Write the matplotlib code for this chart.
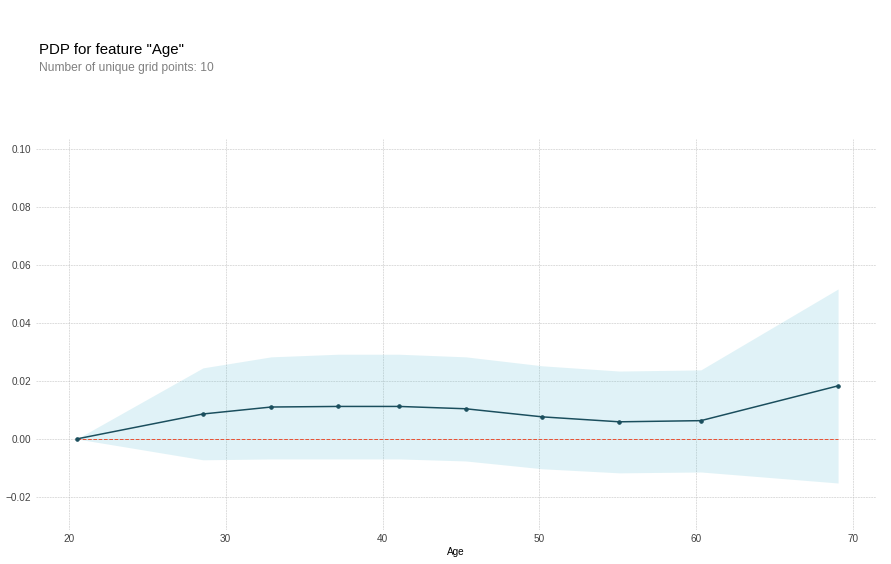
import matplotlib
matplotlib.use("Agg")
import matplotlib.pyplot as plt

# grid points and pdp values
grid_x = [20.5, 28.55, 32.9, 37.15, 41.05, 45.3, 50.2, 55.1, 60.3, 69.05]
pdp = [0.0, 0.0086, 0.0110, 0.0112, 0.0112, 0.0104, 0.0076, 0.0059, 0.0063, 0.0183]
pdp_upper = [0.0, 0.0245, 0.0283, 0.0292, 0.0292, 0.0283, 0.0252, 0.0234, 0.0238, 0.0517]
pdp_lower = [0.0, -0.0072, -0.0069, -0.0069, -0.0069, -0.0076, -0.0103, -0.0117, -0.0114, -0.0152]
yticks = [-0.02, 0.00, 0.02, 0.04, 0.06, 0.08, 0.10]
xticks = [20, 30, 40, 50, 60, 70]

plt.rcParams["font.family"] = ["Liberation Sans", "DejaVu Sans"]

fig = plt.figure(figsize=(891 / 72, 564 / 72), dpi=72)
ax = fig.add_axes([0.0404, 0.0603, 0.9428, 0.6932])

fig.text(0.044, 0.905, 'PDP for feature "Age"', fontsize=15, color="black", va="baseline")
fig.text(0.044, 0.874, "Number of unique grid points: 10", fontsize=12, color="#808080", va="baseline")

ax.fill_between(grid_x, pdp_upper, pdp_lower, color="#66C2D7", alpha=0.2, linewidth=0)
# zero reference line spans only the grid range
ax.plot(grid_x, [0] * len(grid_x), linestyle="--", linewidth=1, color="#E75438", zorder=2)
ax.plot(grid_x, pdp, color="#1A4E5D", linewidth=1.5, marker="o", markersize=3.5, zorder=3)

ax.set_xlim(17.9, 71.47)
ax.set_ylim(-0.0314, 0.1034)
ax.set_xticks(xticks)
ax.set_yticks(yticks)
ax.set_yticklabels([("%.2f" % v).replace("-", "\u2212") for v in yticks])
ax.set_xlabel("Age", fontsize=10, color="black", labelpad=3)

for s in ax.spines.values():
    s.set_visible(False)
ax.tick_params(axis="y", length=0, labelsize=10, labelcolor="#424242", pad=5)
ax.tick_params(axis="x", length=0, labelsize=10, labelcolor="#424242", pad=4)
ax.grid(True, linestyle="--", linewidth=0.5, color="#BDBDBD", alpha=1)
ax.set_axisbelow(True)

fig.savefig("out.png", dpi=72)
